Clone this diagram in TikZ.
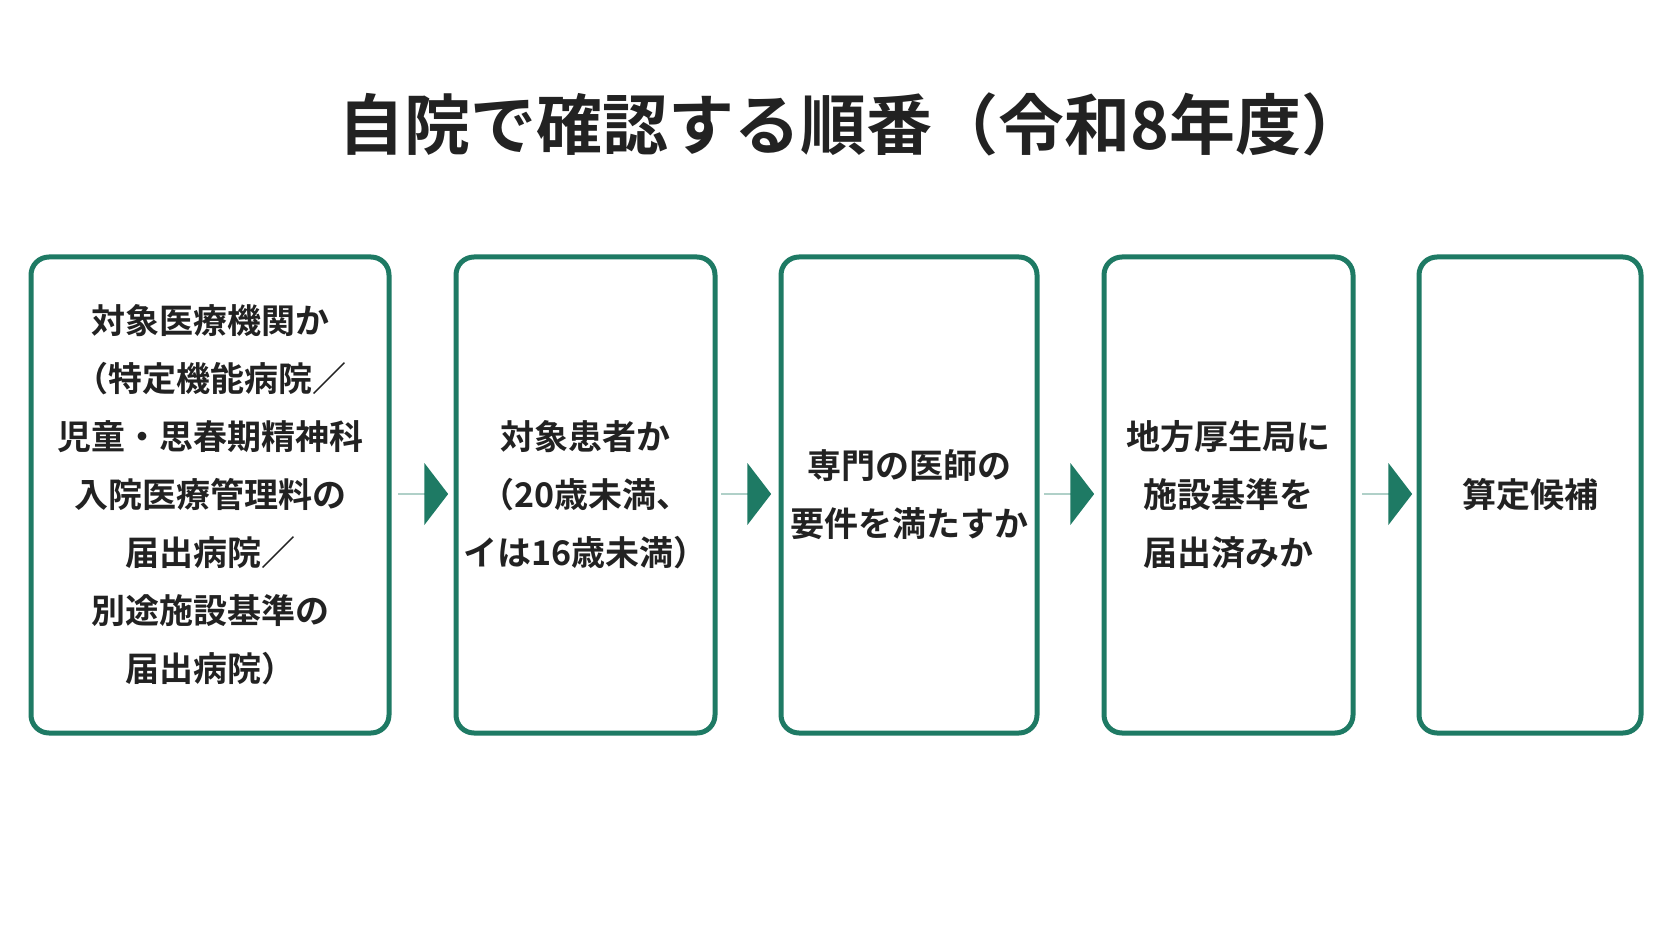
\documentclass[tikz,border=0pt]{standalone}
\usepackage{fontspec}
\setmainfont{Noto Sans CJK JP}[BoldFont={Noto Sans CJK JP Bold}]
\usetikzlibrary{shapes.arrows}
\definecolor{frame}{RGB}{30, 122, 100}
\definecolor{ink}{RGB}{34, 34, 34}

\tikzset{
  stage/.style={draw=frame, line width=5pt, rounded corners=18pt, minimum height=476pt,
    align=center, text=ink, font=\bfseries\fontsize{34}{58}\selectfont},
  go/.style={single arrow, fill=frame, minimum height=50pt, minimum width=62pt,
    single arrow head extend=15pt, single arrow tip angle=105, inner sep=0pt}
}

\begin{document}
\begin{tikzpicture}[x=1pt, y=-1pt]
  \useasboundingbox (0, 0) rectangle (1672, 941);
  \node[text=ink, font=\bfseries\fontsize{66}{70}\selectfont] (title) at (853, 124) {自院で確認する順番（令和8年度）};

  \node[stage, minimum width=358pt] (hosp) at (210, 495) {対象医療機関か\\（特定機能病院／\\児童・思春期精神科\\入院医療管理料の\\届出病院／\\別途施設基準の\\届出病院）};
  \node[stage, minimum width=259pt] (patient) at (585.5, 495) {対象患者か\\（20歳未満、\\イは16歳未満）};
  \node[stage, minimum width=256pt] (doctor) at (909, 495) {専門の医師の\\要件を満たすか};
  \node[stage, minimum width=249pt] (notice) at (1228.5, 495) {地方厚生局に\\施設基準を\\届出済みか};
  \node[stage, minimum width=222pt] (cand) at (1530, 495) {算定候補};

  \node[go] (a1) at (423, 494) {};
  \node[go] (a2) at (746, 494) {};
  \node[go] (a3) at (1069, 494) {};
  \node[go] (a4) at (1387, 494) {};
\end{tikzpicture}
\end{document}
